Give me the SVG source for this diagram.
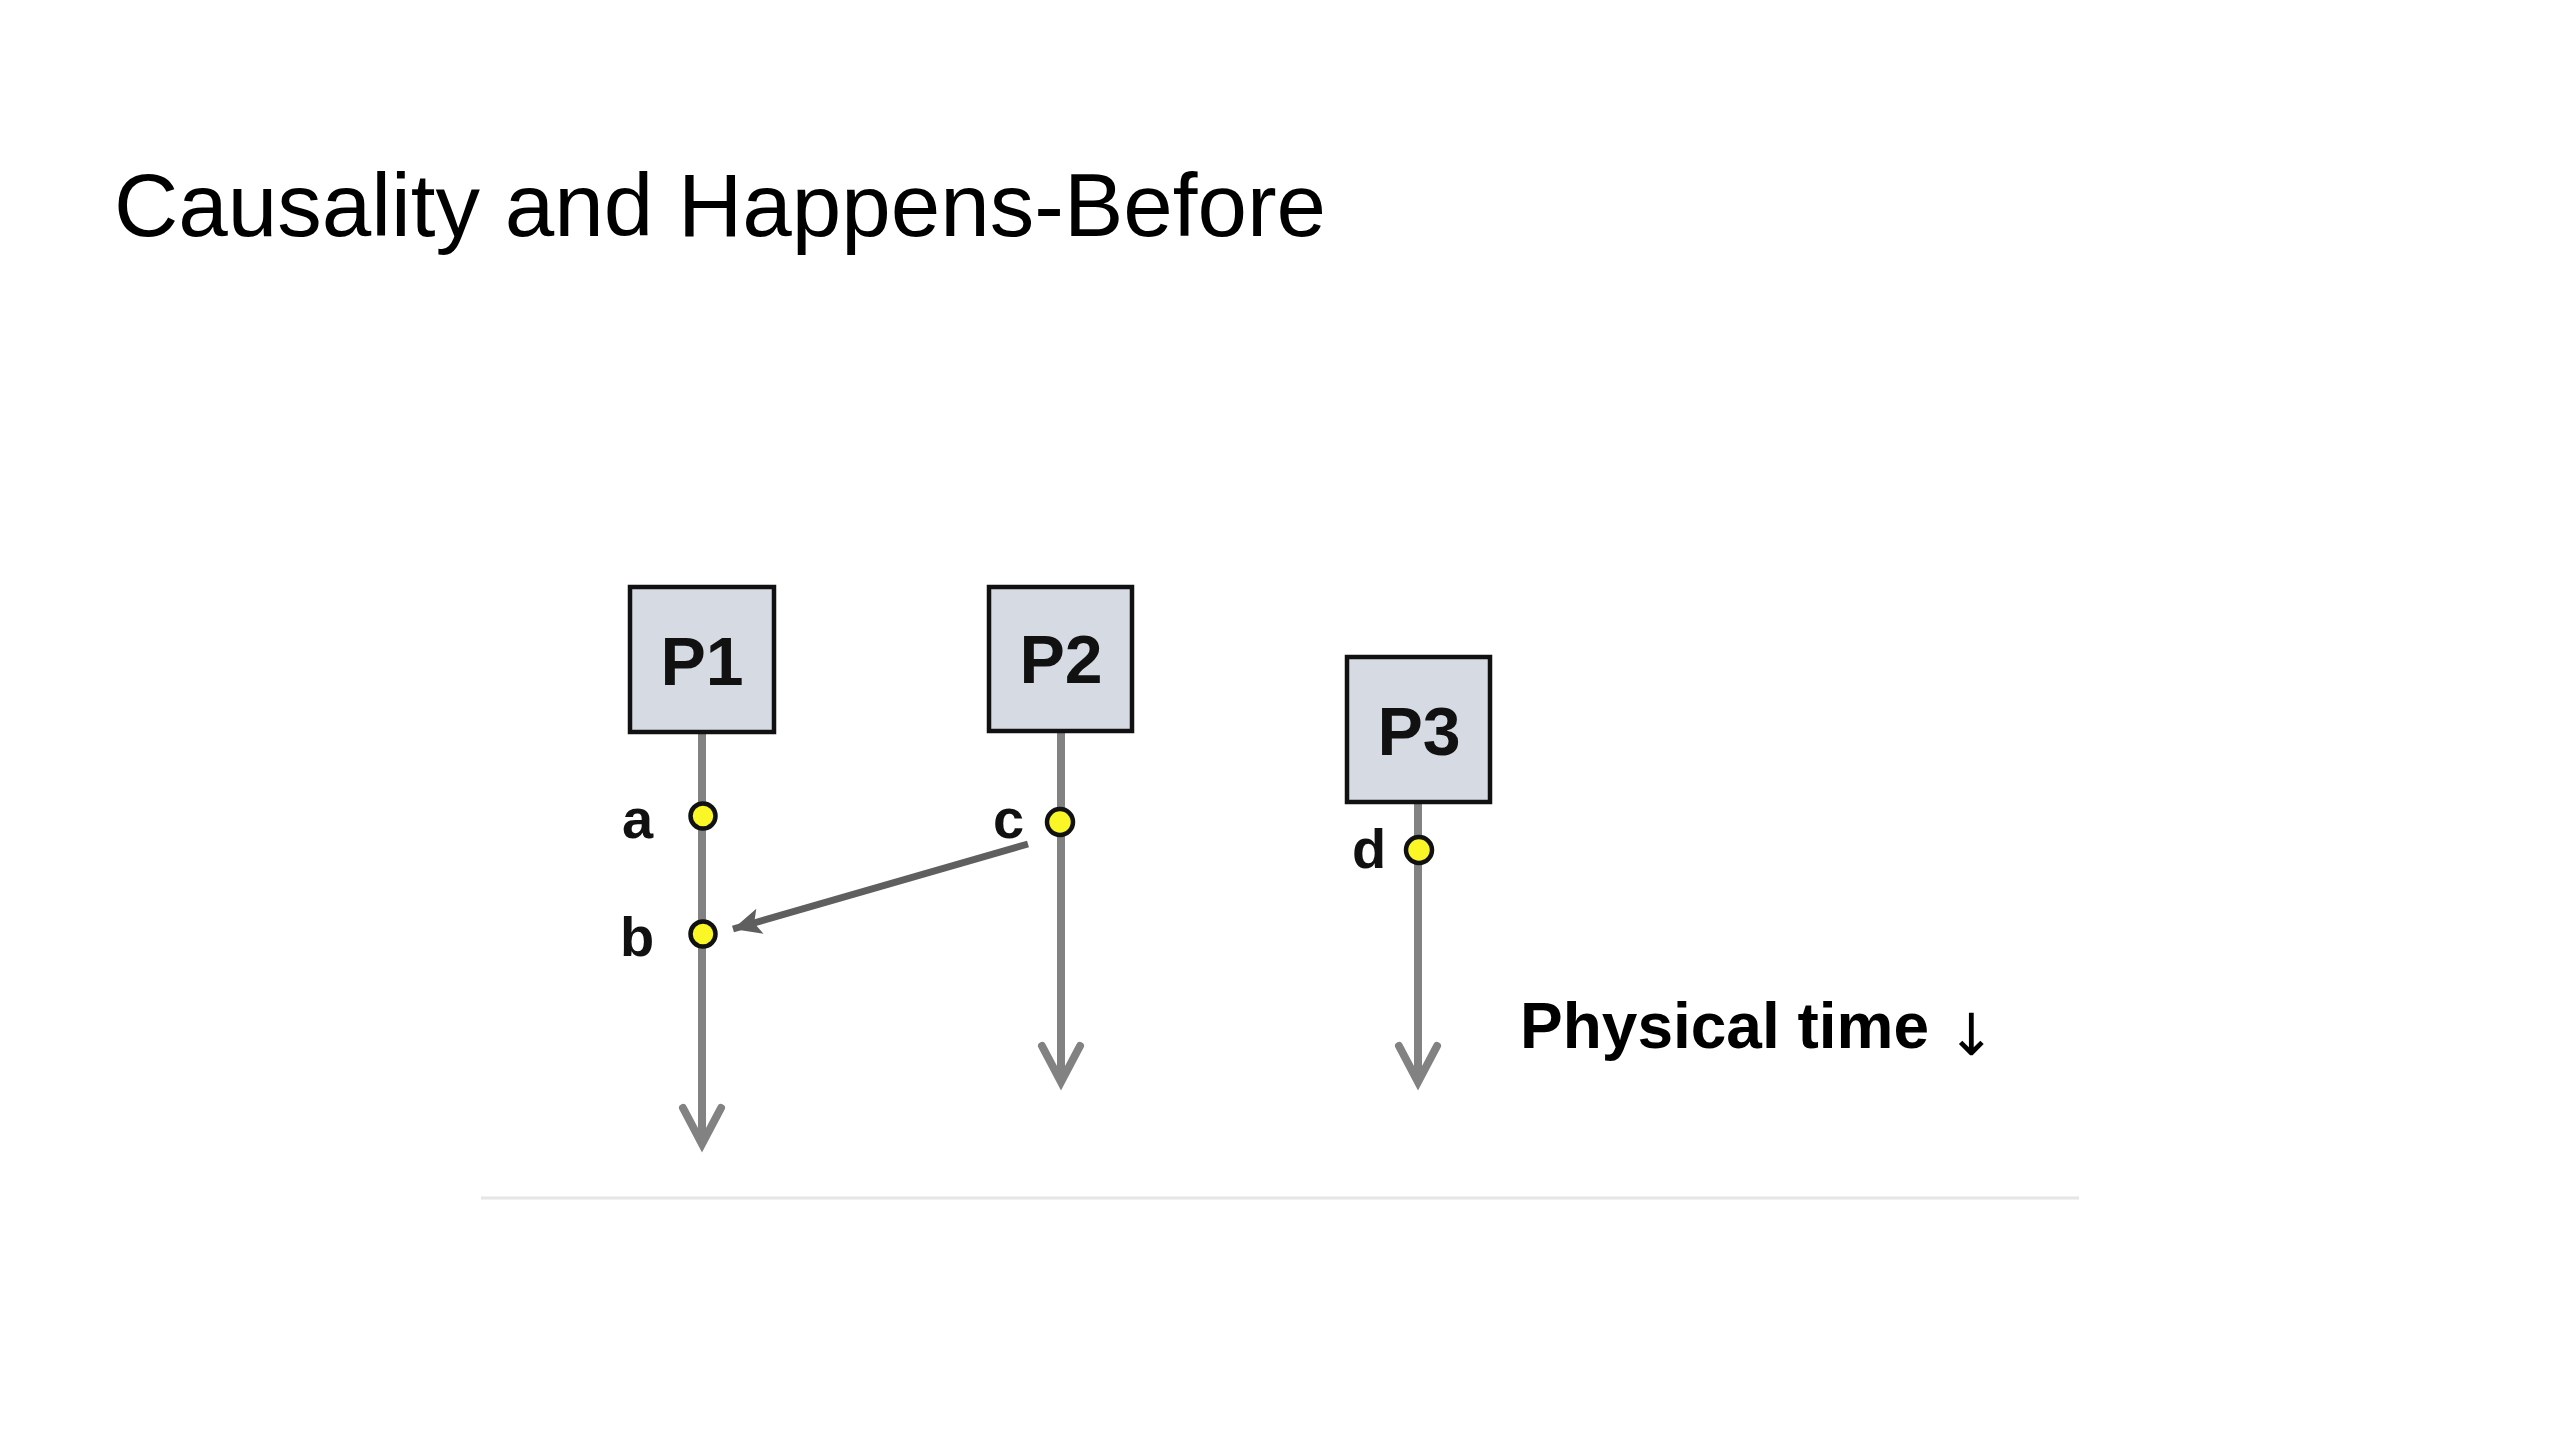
<svg xmlns="http://www.w3.org/2000/svg" width="2560" height="1440" viewBox="0 0 2560 1440">
<style>
.box{fill:#d5dae3;stroke:#111;stroke-width:4.5}
.plabel{font-family:"Liberation Sans",Arial,sans-serif;font-weight:bold;font-size:68px;fill:#111;text-anchor:middle}
.elabel{font-family:"Liberation Sans",Arial,sans-serif;font-weight:bold;font-size:56px;fill:#111}
.life{stroke:#828282;stroke-width:8;fill:none}
.event{fill:#fbf726;stroke:#111;stroke-width:4.5}
.msg{stroke:#5f5f5f;stroke-width:7;fill:none}
</style>
<defs>
<marker id="chev" markerUnits="userSpaceOnUse" viewBox="-50 -30 60 60" markerWidth="60" markerHeight="60" refX="0" refY="0" orient="auto" overflow="visible">
<path d="M-36,-19 L0,0 L-36,19" fill="none" stroke="#828282" stroke-width="8" stroke-linecap="round" stroke-linejoin="miter" stroke-miterlimit="10"/>
</marker>
<marker id="tri" markerUnits="userSpaceOnUse" viewBox="-30 -15 35 30" markerWidth="35" markerHeight="30" refX="0" refY="0" orient="auto" overflow="visible">
<path d="M-28,-13 L0,0 L-28,13 L-22,0 Z" fill="#5f5f5f"/>
</marker>
</defs>
<rect width="2560" height="1440" fill="#fff"/>
<text x="114" y="236" font-family="'Liberation Sans',Arial,sans-serif" font-size="89" fill="#000">Causality and Happens-Before</text>
<line x1="481" y1="1198" x2="2079" y2="1198" stroke="#e6e6e6" stroke-width="3"/>
<g id="connectors">
<line class="life" x1="702" y1="733" x2="702" y2="1144" marker-end="url(#chev)"/>
<line class="life" x1="1061" y1="731" x2="1061" y2="1082" marker-end="url(#chev)"/>
<line class="life" x1="1418" y1="802" x2="1418" y2="1082" marker-end="url(#chev)"/>
<line class="msg" x1="1028" y1="844" x2="733" y2="929" marker-end="url(#tri)"/>
</g>
<g id="P1">
<rect class="box" x="630" y="587" width="144" height="145"/>
<text class="plabel" x="702" y="685">P1</text>
</g>
<g id="P2">
<rect class="box" x="989" y="587" width="143" height="144"/>
<text class="plabel" x="1061" y="683">P2</text>
</g>
<g id="P3">
<rect class="box" x="1347" y="657" width="143" height="145"/>
<text class="plabel" x="1419" y="755">P3</text>
</g>
<g id="event-a">
<circle class="event" cx="703" cy="816" r="12.5"/>
<text class="elabel" x="622" y="838">a</text>
</g>
<g id="event-b">
<circle class="event" cx="703" cy="934" r="12.5"/>
<text class="elabel" x="620" y="956">b</text>
</g>
<g id="event-c">
<circle class="event" cx="1060" cy="822" r="13"/>
<text class="elabel" x="993" y="838">c</text>
</g>
<g id="event-d">
<circle class="event" cx="1419" cy="850" r="13"/>
<text class="elabel" x="1352" y="868">d</text>
</g>
<text x="1520" y="1048" font-family="'Liberation Sans',Arial,sans-serif" font-weight="bold" font-size="64" fill="#000">Physical time <tspan dy="7" font-family="'DejaVu Sans',sans-serif" font-weight="normal" font-size="58">↓</tspan></text>
</svg>
